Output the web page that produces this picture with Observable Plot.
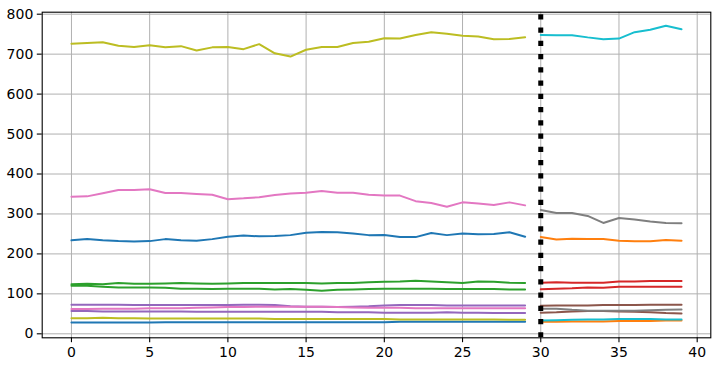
<!DOCTYPE html>
<html><head><meta charset="utf-8">
<script src="https://cdn.jsdelivr.net/npm/d3@7"></script>
<script src="https://cdn.jsdelivr.net/npm/@observablehq/plot@0.6"></script>
<style>body{margin:0;background:#fff}svg{display:block}</style>
</head><body><div id="chart"></div>
<script>
// x positions
const xFirst = d3.range(0, 30);
const xSecond = d3.range(30, 40);
const xTicks = [0, 5, 10, 15, 20, 25, 30, 35, 40];
const yTicks = [0, 100, 200, 300, 400, 500, 600, 700, 800];

// first segment (x 0..29)
const blueHigh   = [234,237,234,232,231,232,237,234,233,237,243,246,244,245,247,253,255,254,251,247,247.5,242.5,242,252.5,247,251,249,250,254,243];
const blueLow    = [28,28,28,28,28,28,29,29,29,29,29,29,29,29,29,29,29,29,29,29,29,30,30,30,30,30,30,30,30,30];
const greenHigh  = [124,125,124,127,125,125,126,127,126,125,126,127,127,127,127,127,126,127,127,129,130,131,133,131,129,127,131,130,128,127];
const greenLow   = [120,120,118,116,116,116,115,113,113,112,113,113,113,111,112,110,108,110,111,112,113,113,113,113,112,112,112,112,111,111];
const purpleHigh = [73,73,73,73,72,72,72,72,72,72,72,73,73,72,69,68,68,67,68,69,71,72,72,72,71,71,71,71,71,71];
const purpleLow  = [57,57,56,56,56,56,56,56,55,55,55,55,55,55,55,55,55,54,54,54,53,53,53,53,54,53,53,52,52,52];
const pinkHigh   = [343,344,352,360,360,362,352.5,352.5,350,348,337,339,342,347.5,351,353,357.5,353,353,348,346,346,332,327.5,318,329,326,322.5,329,321.5];
const pinkLow    = [62,62,63,63,63,64,64,64,65,66,67,67,68,68,68,68,68,67,66,65,65,65,64,64,64,64,64,64,64,64];
const oliveHigh  = [726,728,730,721,718,722,717.5,720,709,717,718,712.5,725,702,694,711,718,718,728,731,740,739,748,755,751,746,744,737.5,738,742.5];
const oliveLow   = [39,39,40,39,39,38,38,38,38,38,38,38,38,37,37,37,37,37,37,37,37,36,36,36,36,36,36,36,35,35];

// second segment (x 30..39)
const orangeHigh = [242.5,236,238,237.5,237.5,233,231.7,231.7,235,233];
const orangeLow  = [30,30,31,31,31,32,32,32,33,33];
const redHigh    = [128,129,128,127.5,128,131,131,132,132,132];
const redLow     = [111.7,113,114,116,115,117.5,117.5,118,118,118];
const brownHigh  = [70,71,71,71,72,72,72,73,73,73];
const brownLow   = [53,54,56,57,57,56,55,54,52,51];
const grayHigh   = [310,302.5,302.5,295,277.5,290,286,281,277.5,276.7];
const grayLow    = [63,63,60,58,58,58,58,59,60,61];
const cyanHigh   = [748,747.5,747.5,742,737.5,739,755,761,771,762.5];
const cyanLow    = [33,34,35,36,36,37,37,37,36,36];

// split marker
const splitX = [30, 30];
const splitY = [800, -8];

const firstSeries = [
  ["blueHigh", blueHigh, "#1f77b4"], ["greenHigh", greenHigh, "#2ca02c"], ["purpleHigh", purpleHigh, "#9467bd"],
  ["pinkHigh", pinkHigh, "#e377c2"], ["oliveHigh", oliveHigh, "#bcbd22"],
  ["blueLow", blueLow, "#1f77b4"], ["greenLow", greenLow, "#2ca02c"], ["purpleLow", purpleLow, "#9467bd"],
  ["pinkLow", pinkLow, "#e377c2"], ["oliveLow", oliveLow, "#bcbd22"]
];
const secondSeries = [
  ["orangeHigh", orangeHigh, "#ff7f0e"], ["redHigh", redHigh, "#d62728"], ["brownHigh", brownHigh, "#8c564b"],
  ["grayHigh", grayHigh, "#7f7f7f"], ["cyanHigh", cyanHigh, "#17becf"],
  ["orangeLow", orangeLow, "#ff7f0e"], ["redLow", redLow, "#d62728"], ["brownLow", brownLow, "#8c564b"],
  ["grayLow", grayLow, "#7f7f7f"], ["cyanLow", cyanLow, "#17becf"]
];
const rows = [];
for (const [k, vals, c] of firstSeries) vals.forEach((v, i) => rows.push({key: k, x: xFirst[i], y: v, c}));
for (const [k, vals, c] of secondSeries) vals.forEach((v, i) => rows.push({key: k, x: xSecond[i], y: v, c}));
const split = splitX.map((x, i) => ({x, y: splitY[i]}));

const chart = Plot.plot({
  width: 717, height: 365,
  marginLeft: 41.7, marginRight: 6.7, marginTop: 11.7, marginBottom: 27.7,
  style: {fontFamily: "DejaVu Sans", fontSize: "14px", background: "#fff", color: "#000"},
  x: {domain: [-1.87, 40.87]},
  y: {domain: [-10, 805]},
  color: {type: "identity"},
  marks: [
    Plot.gridX(xTicks, {stroke: "#b0b0b0", strokeOpacity: 1, strokeWidth: 1}),
    Plot.gridY(yTicks, {stroke: "#b0b0b0", strokeOpacity: 1, strokeWidth: 1}),
    Plot.line(rows, {x: "x", y: "y", z: "key", stroke: "c", strokeWidth: 2}),
    Plot.line(split, {x: "x", y: "y", stroke: "#000", strokeWidth: 5, strokeDasharray: "5.3,7.95", strokeLinecap: "butt"}),
    Plot.frame({stroke: "#000", strokeWidth: 1.1}),
    Plot.axisX(xTicks, {tickSize: 4.9, tickPadding: 4, label: null, stroke: "#000", strokeWidth: 1.1}),
    Plot.axisY(yTicks, {tickSize: 4.9, tickPadding: 4, label: null, stroke: "#000", strokeWidth: 1.1})
  ]
});
document.getElementById("chart").appendChild(chart);
</script></body></html>
